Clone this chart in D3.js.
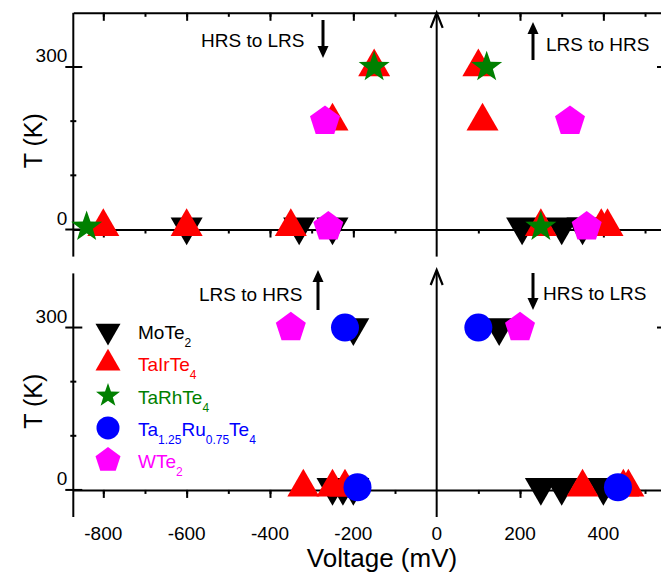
<!DOCTYPE html>
<html>
<head>
<meta charset="utf-8">
<script src="https://cdn.jsdelivr.net/npm/d3@7"></script>
<style>
  html, body { margin: 0; padding: 0; background: #fff; }
  svg { display: block; }
  text { font-family: "Liberation Sans", Arial, sans-serif; }
</style>
</head>
<body>
<svg id="chart" width="661" height="574"></svg>
<script>
// ---------------- DATA ----------------
const seriesNames = ["MoTe2", "TaIrTe4", "TaRhTe4", "Ta1.25Ru0.75Te4", "WTe2"];
const seriesColors = ["#000000", "#ff0000", "#008000", "#0000ff", "#ff00ff"];

// Top panel (voltage mV, temperature K)
const topMoTe2V   = [-600, -330, -250, 205, 300, 350];
const topMoTe2T   = [5, 5, 5, 5, 5, 5];
const topTaIrTe4V = [-800, -600, -350, -150, -250, 100, 110, 250, 395, 410];
const topTaIrTe4T = [5, 5, 5, 300, 200, 300, 200, 5, 5, 5];
const topTaRhTe4V = [-840, -150, 120, 250];
const topTaRhTe4T = [5, 300, 300, 5];
const topTaRuTe4V = [];
const topTaRuTe4T = [];
const topWTe2V    = [-268, -260, 320, 360];
const topWTe2T    = [200, 5, 200, 5];

// Bottom panel
const botMoTe2V   = [-200, -250, -225, -200, 150, 250, 300, 400];
const botMoTe2T   = [300, 5, 5, 5, 300, 5, 5, 5];
const botTaIrTe4V = [-320, -250, -220, 350, 448, 460];
const botTaIrTe4T = [5, 5, 5, 5, 5, 5];
const botTaRhTe4V = [];
const botTaRhTe4T = [];
const botTaRuTe4V = [-220, -190, 100, 435];
const botTaRuTe4T = [300, 5, 300, 5];
const botWTe2V    = [-350, 200];
const botWTe2T    = [300, 300];

const xTickLabels = [-800, -600, -400, -200, 0, 200, 400];
const xMinorTicks = [-800, -700, -600, -500, -400, -300, -200, -100, 100, 200, 300, 400, 500];
const yMajorTicks = [0, 300];
const yMinorTicks = [100, 200];

const annotations = [
  {panel: 0, text: "HRS to LRS", x: 201, y: 47, arrowX: 323, y1: 20, y2: 58},
  {panel: 0, text: "LRS to HRS", x: 546, y: 51, arrowX: 533, y1: 60, y2: 22},
  {panel: 1, text: "LRS to HRS", x: 199, y: 301, arrowX: 318, y1: 310, y2: 270},
  {panel: 1, text: "HRS to LRS", x: 543, y: 300, arrowX: 533, y1: 273, y2: 310}
];

const legendParts = [
  [["MoTe", false], ["2", true]],
  [["TaIrTe", false], ["4", true]],
  [["TaRhTe", false], ["4", true]],
  [["Ta", false], ["1.25", true], ["Ru", false], ["0.75", true], ["Te", false], ["4", true]],
  [["WTe", false], ["2", true]]
];

// ---------------- SYMBOLS ----------------
const symTriUp = { draw(ctx, size) {
  const s = Math.sqrt(size), h = s * Math.sqrt(3) / 2;
  ctx.moveTo(0, -2 * h / 3); ctx.lineTo(s / 2, h / 3); ctx.lineTo(-s / 2, h / 3); ctx.closePath();
}};
const symTriDown = { draw(ctx, size) {
  const s = Math.sqrt(size), h = s * Math.sqrt(3) / 2;
  ctx.moveTo(0, 2 * h / 3); ctx.lineTo(s / 2, -h / 3); ctx.lineTo(-s / 2, -h / 3); ctx.closePath();
}};
const symStar = { draw(ctx, size) {
  const w = Math.sqrt(size), R = w / (2 * Math.sin(72 * Math.PI / 180)), r = R * 0.4;
  for (let i = 0; i < 10; i++) {
    const a = -Math.PI / 2 + i * Math.PI / 5, rr = i % 2 ? r : R;
    const px = rr * Math.cos(a), py = rr * Math.sin(a);
    if (i === 0) ctx.moveTo(px, py); else ctx.lineTo(px, py);
  }
  ctx.closePath();
}};
const symPent = { draw(ctx, size) {
  const w = Math.sqrt(size), R = w / (2 * Math.sin(72 * Math.PI / 180));
  for (let i = 0; i < 5; i++) {
    const a = -Math.PI / 2 + i * 2 * Math.PI / 5;
    const px = R * Math.cos(a), py = R * Math.sin(a);
    if (i === 0) ctx.moveTo(px, py); else ctx.lineTo(px, py);
  }
  ctx.closePath();
}};
const symCirc = { draw(ctx, size) {
  const r = Math.sqrt(size) / 2;
  ctx.moveTo(r, 0); ctx.arc(0, 0, r, 0, 2 * Math.PI);
}};
const seriesSymbols = [symTriDown, symTriUp, symStar, symCirc, symPent];
const markerWidths = [32, 32, 31, 28, 30];
const legendWidths = [25, 25, 24, 23, 25];

// ---------------- SCALES ----------------
const svg = d3.select("#chart");
const x = d3.scaleLinear().domain([-872, 540]).range([73.3, 661.7]);
const yScales = [
  d3.scaleLinear().domain([-50, 400]).range([256.6, 12.8]),
  d3.scaleLinear().domain([-50, 400]).range([517, 273.4])
];

const panelData = [
  [[topMoTe2V, topMoTe2T], [topTaIrTe4V, topTaIrTe4T], [topTaRhTe4V, topTaRhTe4T], [topTaRuTe4V, topTaRuTe4T], [topWTe2V, topWTe2T]],
  [[botMoTe2V, botMoTe2T], [botTaIrTe4V, botTaIrTe4T], [botTaRhTe4V, botTaRhTe4T], [botTaRuTe4V, botTaRuTe4T], [botWTe2V, botWTe2T]]
];

const axisColor = "#000";
const x0 = x(0);

yScales.forEach((y, p) => {
  const g = svg.append("g");
  const yZero = y(0);
  // left axis line
  g.append("line").attr("x1", x.range()[0]).attr("x2", x.range()[0])
    .attr("y1", y.range()[0]).attr("y2", y.range()[1])
    .attr("stroke", axisColor).attr("stroke-width", 2);
  // left ticks (crossing)
  yMajorTicks.forEach(t => {
    g.append("line").attr("x1", x.range()[0] - 8).attr("x2", x.range()[0] + 9)
      .attr("y1", y(t)).attr("y2", y(t)).attr("stroke", axisColor).attr("stroke-width", 2);
    g.append("text").attr("x", x.range()[0] - 6).attr("y", y(t) - 5)
      .attr("text-anchor", "end").attr("font-size", 19).text(t);
  });
  yMinorTicks.forEach(t => {
    g.append("line").attr("x1", x.range()[0] - 3).attr("x2", x.range()[0] + 3)
      .attr("y1", y(t)).attr("y2", y(t)).attr("stroke", axisColor).attr("stroke-width", 2);
  });
  // right tick (axis off-canvas)
  g.append("line").attr("x1", 657).attr("x2", 664)
    .attr("y1", y(300)).attr("y2", y(300)).attr("stroke", axisColor).attr("stroke-width", 2);

  // zero line with downward ticks
  const zeroAxisMajor = d3.axisBottom(x).tickValues(xTickLabels.filter(v => v !== 0)).tickSize(8).tickSizeOuter(0).tickFormat("");
  const zeroAxisMinor = d3.axisBottom(x).tickValues(xMinorTicks).tickSize(4).tickSizeOuter(0).tickFormat("");
  const za = g.append("g").attr("transform", `translate(0,${yZero})`).call(zeroAxisMinor);
  g.append("g").attr("transform", `translate(0,${yZero})`).call(zeroAxisMajor).select(".domain").remove();
  g.selectAll(".tick line").attr("stroke", axisColor).attr("stroke-width", 2);
  za.select(".domain").attr("stroke", axisColor).attr("stroke-width", 2);

  if (p === 0) {
    // top frame with downward ticks
    const topMinor = d3.axisBottom(x).tickValues(xMinorTicks).tickSize(4).tickSizeOuter(0).tickFormat("");
    const topMajor = d3.axisBottom(x).tickValues(xTickLabels.filter(v => v !== 0)).tickSize(8).tickSizeOuter(0).tickFormat("");
    const ta = g.append("g").attr("transform", `translate(0,${y.range()[1]})`).call(topMinor);
    g.append("g").attr("transform", `translate(0,${y.range()[1]})`).call(topMajor).select(".domain").remove();
    g.selectAll(".tick line").attr("stroke", axisColor).attr("stroke-width", 2);
    ta.select(".domain").attr("stroke", axisColor).attr("stroke-width", 2);
  }

  // vertical arrow at V = 0
  const tipY = p === 0 ? y.range()[1] : 270;
  g.append("line").attr("x1", x0).attr("x2", x0).attr("y1", y.range()[0]).attr("y2", tipY + 1)
    .attr("stroke", axisColor).attr("stroke-width", 2);
  g.append("path").attr("d", `M${x0 - 6},${tipY + 15} L${x0},${tipY} L${x0 + 6},${tipY + 15}`)
    .attr("fill", "none").attr("stroke", axisColor).attr("stroke-width", 2.2);

  // Axis title
  g.append("text").attr("transform", `translate(42,${(y.range()[0] + y.range()[1]) / 2 + 6}) rotate(-90)`)
    .attr("text-anchor", "middle").attr("font-size", 25).text("T (K)");

  // Markers
  panelData[p].forEach((ser, si) => {
    const pts = ser[0].map((v, i) => [v, ser[1][i]]);
    g.append("g").selectAll("path").data(pts).join("path")
      .attr("transform", d => `translate(${x(d[0])},${y(d[1])})`)
      .attr("d", d3.symbol().type(seriesSymbols[si]).size(markerWidths[si] * markerWidths[si]))
      .attr("fill", seriesColors[si]);
  });
});

// x tick labels
svg.append("g").selectAll("text").data(xTickLabels).join("text")
  .attr("x", d => x(d)).attr("y", 540).attr("text-anchor", "middle").attr("font-size", 19)
  .text(d => d);
svg.append("text").attr("x", 382).attr("y", 567).attr("text-anchor", "middle").attr("font-size", 26)
  .text("Voltage (mV)");

// annotations
annotations.forEach(a => {
  svg.append("text").attr("x", a.x).attr("y", a.y).attr("font-size", 19).text(a.text);
  const down = a.y2 > a.y1;
  const headLen = 12, headW = 5.5;
  const shaftEnd = down ? a.y2 - headLen : a.y2 + headLen;
  svg.append("line").attr("x1", a.arrowX).attr("x2", a.arrowX).attr("y1", a.y1).attr("y2", shaftEnd)
    .attr("stroke", "#000").attr("stroke-width", 3);
  svg.append("path")
    .attr("d", `M${a.arrowX - headW},${shaftEnd} L${a.arrowX},${a.y2} L${a.arrowX + headW},${shaftEnd} Z`)
    .attr("fill", "#000");
});

// legend
const legX = 108, legTextX = 138, legY0 = 331, legDy = 32.3;
seriesNames.forEach((name, i) => {
  const cy = legY0 + i * legDy;
  svg.append("path").attr("transform", `translate(${legX},${cy})`)
    .attr("d", d3.symbol().type(seriesSymbols[i]).size(legendWidths[i] * legendWidths[i]))
    .attr("fill", seriesColors[i]);
  const t = svg.append("text").attr("x", legTextX).attr("y", cy + 8).attr("font-size", 19)
    .attr("fill", seriesColors[i]);
  let prevSub = false;
  legendParts[i].forEach(([s, sub]) => {
    const ts = t.append("tspan").text(s);
    if (sub && !prevSub) ts.attr("dy", 8).attr("font-size", 12);
    else if (!sub && prevSub) ts.attr("dy", -8).attr("font-size", 19);
    else if (sub) ts.attr("font-size", 12);
    prevSub = sub;
  });
});
</script>
</body>
</html>
